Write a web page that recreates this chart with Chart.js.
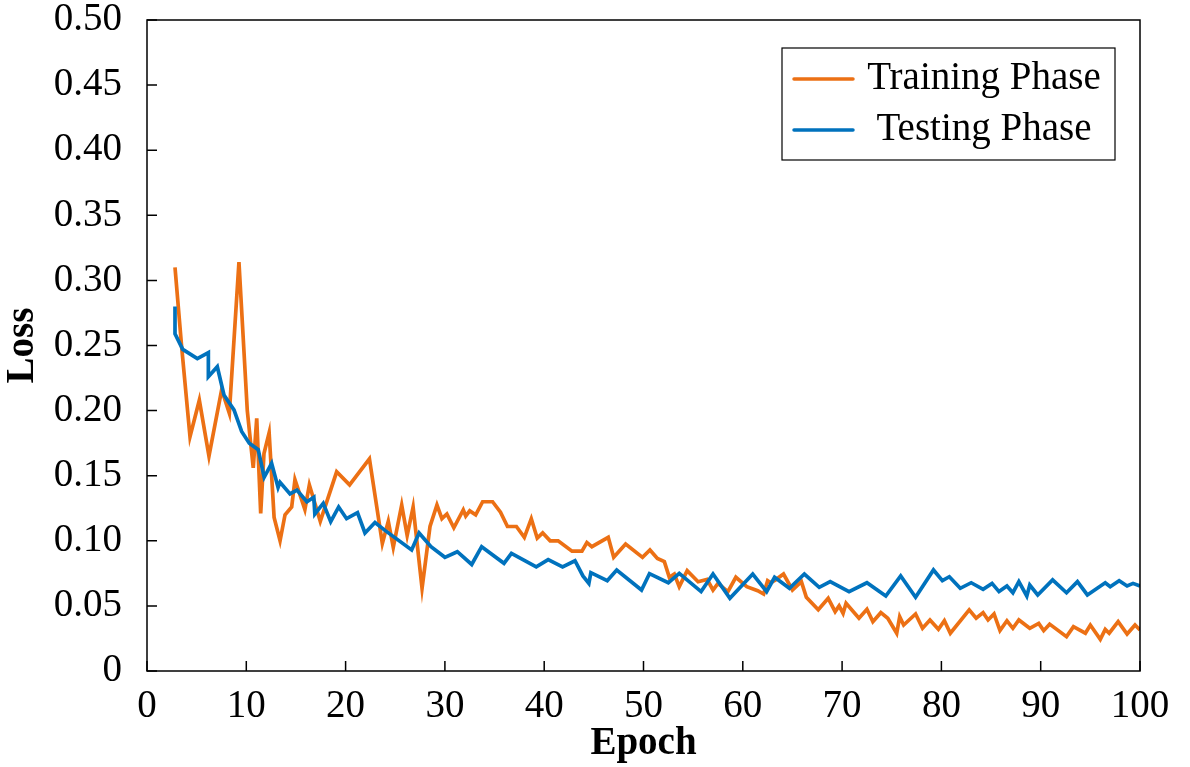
<!DOCTYPE html>
<html lang="en">
  <head>
    <meta charset="UTF-8" />
    <title>Loss vs Epoch</title>
    <script src="https://cdn.jsdelivr.net/npm/chart.js"></script>
    <style>
      html, body { margin: 0; padding: 0; background: #fff; }
      #wrap { width: 1190px; height: 767px; }
    </style>
  </head>
  <body>
    <div id="wrap"><canvas id="lossChart"></canvas></div>

    <script>
      // values
      const trainEpoch = [2.82, 3.49, 4.33, 5.27, 6.24, 7.52, 8.29, 9.26, 10.1, 10.7, 11.05, 11.45, 11.78, 12.3, 12.8, 13.4, 13.9, 14.57, 14.9, 15.9, 16.35, 17.45, 19.1, 20.4, 22.4, 23.7, 24.3, 24.8, 25.65, 26.2, 26.8, 27.7, 28.5, 29.2, 29.7, 30.2, 30.9, 31.85, 32.1, 32.5, 33.1, 33.8, 34.8, 35.6, 36.3, 37.2, 38.0, 38.7, 39.3, 39.85, 40.6, 41.4, 42.8, 43.8, 44.3, 44.8, 46.45, 47.0, 48.2, 49.9, 50.65, 51.4, 52.1, 52.6, 53.1, 53.6, 54.4, 55.5, 56.4, 57.0, 57.5, 58.5, 59.3, 60.4, 61.5, 62.1, 62.5, 62.8, 63.3, 64.1, 65.0, 65.9, 66.4, 67.6, 68.6, 69.3, 69.7, 70.1, 70.4, 71.7, 72.5, 73.1, 73.9, 74.6, 75.5, 75.8, 76.2, 77.4, 78.1, 78.85, 79.7, 80.3, 80.9, 82.8, 83.5, 84.2, 84.7, 85.3, 85.9, 86.6, 87.2, 87.8, 88.9, 89.8, 90.3, 90.9, 92.6, 93.3, 94.5, 95.0, 96.0, 96.5, 96.9, 97.8, 98.7, 99.5, 100];
      const trainLoss = [0.310, 0.249, 0.180, 0.208, 0.165, 0.216, 0.198, 0.314, 0.200, 0.156, 0.194, 0.121, 0.167, 0.183, 0.118, 0.100, 0.120, 0.126, 0.147, 0.124, 0.143, 0.115, 0.153, 0.143, 0.163, 0.098, 0.115, 0.095, 0.1275, 0.104, 0.126, 0.0635, 0.111, 0.1275, 0.117, 0.1206, 0.110, 0.1237, 0.119, 0.123, 0.120, 0.130, 0.130, 0.122, 0.111, 0.111, 0.1027, 0.117, 0.102, 0.106, 0.100, 0.100, 0.092, 0.092, 0.0986, 0.0955, 0.1027, 0.0873, 0.0975, 0.0873, 0.093, 0.0865, 0.084, 0.072, 0.0745, 0.0648, 0.077, 0.0686, 0.0704, 0.0622, 0.0673, 0.061, 0.072, 0.0648, 0.0617, 0.0591, 0.0694, 0.0678, 0.070, 0.0745, 0.0622, 0.0686, 0.0566, 0.047, 0.0558, 0.0456, 0.050, 0.0443, 0.052, 0.0405, 0.0474, 0.0379, 0.0448, 0.0405, 0.029, 0.0417, 0.0353, 0.0438, 0.0328, 0.0392, 0.032, 0.0386, 0.029, 0.0469, 0.0405, 0.0448, 0.0392, 0.0438, 0.031, 0.0386, 0.0328, 0.0392, 0.0328, 0.0366, 0.031, 0.036, 0.0264, 0.034, 0.029, 0.0353, 0.0243, 0.032, 0.029, 0.0379, 0.0284, 0.0353, 0.0315];

      const testEpoch = [2.82, 2.82, 3.6, 5.07, 6.18, 6.18, 7.08, 7.75, 8.76, 9.53, 10.3, 11.2, 11.8, 12.55, 13.2, 13.4, 14.4, 15.1, 16.1, 16.8, 16.9, 17.75, 18.5, 19.3, 20.1, 21.2, 21.95, 22.96, 24.0, 26.65, 27.4, 28.6, 30.0, 31.25, 32.7, 33.7, 35.95, 36.7, 39.2, 40.4, 41.85, 43.1, 43.9, 44.5, 44.7, 46.35, 47.3, 49.8, 50.6, 52.5, 53.6, 55.8, 57.0, 58.7, 61.0, 62.4, 63.2, 64.7, 66.2, 67.7, 68.8, 70.7, 72.5, 74.4, 75.9, 77.4, 79.2, 80.1, 80.8, 81.9, 83.0, 84.2, 85.1, 85.8, 86.6, 87.2, 87.8, 88.6, 88.9, 89.7, 91.2, 92.6, 93.7, 94.7, 96.5, 97.0, 97.9, 98.7, 99.3, 100];
      const testLoss = [0.280, 0.259, 0.247, 0.240, 0.2445, 0.226, 0.2337, 0.212, 0.2005, 0.184, 0.175, 0.170, 0.1488, 0.1595, 0.141, 0.145, 0.136, 0.139, 0.130, 0.1334, 0.1206, 0.1288, 0.1147, 0.126, 0.117, 0.1216, 0.106, 0.114, 0.1078, 0.093, 0.106, 0.0955, 0.0873, 0.0916, 0.0818, 0.0955, 0.0827, 0.0904, 0.080, 0.0855, 0.080, 0.0847, 0.073, 0.0673, 0.0755, 0.0694, 0.0776, 0.0622, 0.0748, 0.0678, 0.075, 0.061, 0.0745, 0.0558, 0.0745, 0.061, 0.072, 0.0635, 0.0745, 0.0643, 0.0686, 0.061, 0.0678, 0.0576, 0.073, 0.0566, 0.0776, 0.0694, 0.0724, 0.0635, 0.0678, 0.0627, 0.0673, 0.061, 0.0653, 0.0601, 0.0686, 0.0576, 0.066, 0.0584, 0.070, 0.0601, 0.0686, 0.0584, 0.0678, 0.0647, 0.0694, 0.0653, 0.0673, 0.0653];

      const seriesNames = ["Training Phase", "Testing Phase"];
      const xTicks = [0, 10, 20, 30, 40, 50, 60, 70, 80, 90, 100];
      const yTicks = [0, 0.05, 0.1, 0.15, 0.2, 0.25, 0.3, 0.35, 0.4, 0.45, 0.5];

      const ORANGE = "#EC7014";
      const BLUE = "#0072BD";
      const FONT = "'Liberation Serif', 'Times New Roman', serif";

      const toPoints = (xs, ys) => xs.map((x, i) => ({ x: x, y: ys[i] }));

      // box around plot + inward ticks + framed legend
      const framePlugin = {
        id: "frame",
        afterDraw(chart) {
          const { ctx, chartArea: a, scales } = chart;
          ctx.save();
          ctx.strokeStyle = "#000";
          ctx.lineWidth = 1.5;
          ctx.strokeRect(a.left, a.top, a.right - a.left, a.bottom - a.top);

          ctx.beginPath();
          xTicks.forEach(v => {
            const px = scales.x.getPixelForValue(v);
            ctx.moveTo(px, a.bottom);
            ctx.lineTo(px, a.bottom - 10);
          });
          yTicks.forEach(v => {
            const py = scales.y.getPixelForValue(v);
            ctx.moveTo(a.left, py);
            ctx.lineTo(a.left + 10, py);
          });
          ctx.stroke();

          // legend
          const bx = a.right - 358, by = a.top + 28, bw = 333, bh = 112;
          ctx.fillStyle = "#fff";
          ctx.fillRect(bx, by, bw, bh);
          ctx.lineWidth = 1.2;
          ctx.strokeRect(bx, by, bw, bh);
          ctx.font = "39px " + FONT;
          ctx.textBaseline = "middle";
          ctx.textAlign = "center";
          chart.data.datasets.forEach((ds, i) => {
            const ly = by + 31 + i * 51;
            ctx.strokeStyle = ds.borderColor;
            ctx.lineWidth = 3.5;
            ctx.lineCap = "round";
            ctx.beginPath();
            ctx.moveTo(bx + 12, ly);
            ctx.lineTo(bx + 71, ly);
            ctx.stroke();
            ctx.fillStyle = "#000";
            ctx.fillText(ds.label, bx + 202, ly);
          });
          ctx.restore();
        },
      };

      new Chart(document.getElementById("lossChart"), {
        type: "line",
        data: {
          datasets: [
            {
              label: seriesNames[0],
              data: toPoints(trainEpoch, trainLoss),
              borderColor: ORANGE,
              borderWidth: 3.7,
              pointRadius: 0,
              tension: 0,
              order: 1,
            },
            {
              label: seriesNames[1],
              data: toPoints(testEpoch, testLoss),
              borderColor: BLUE,
              borderWidth: 3.7,
              pointRadius: 0,
              tension: 0,
              order: 0,
            },
          ],
        },
        options: {
          responsive: true,
          maintainAspectRatio: false,
          animation: false,
          layout: { padding: { left: 0, top: 20, right: 50, bottom: 0 } },
          plugins: {
            legend: { display: false },
            tooltip: { enabled: false },
          },
          scales: {
            x: {
              type: "linear",
              min: 0,
              max: 100,
              afterBuildTicks: s => { s.ticks = xTicks.map(v => ({ value: v })); },
              afterFit: s => { s.height = 96; s.paddingLeft = 0; s.paddingRight = 0; },
              grid: { display: false, drawTicks: false },
              border: { display: false },
              ticks: {
                color: "#000",
                font: { family: FONT, size: 39 },
                padding: 12,
                maxRotation: 0,
              },
              title: {
                display: true,
                text: "Epoch",
                color: "#000",
                font: { family: FONT, size: 39, weight: "bold" },
                padding: { top: 0, bottom: 0 },
              },
            },
            y: {
              min: 0,
              max: 0.5,
              afterBuildTicks: s => { s.ticks = yTicks.map(v => ({ value: v })); },
              afterFit: s => { s.width = 147; s.paddingTop = 0; s.paddingBottom = 0; },
              grid: { display: false, drawTicks: false },
              border: { display: false },
              ticks: {
                color: "#000",
                font: { family: FONT, size: 39 },
                padding: 25,
                callback: v => (v === 0 ? "0" : v.toFixed(2)),
              },
              title: {
                display: true,
                text: "Loss",
                color: "#000",
                font: { family: FONT, size: 39, weight: "bold" },
                padding: 0,
              },
            },
          },
        },
        plugins: [framePlugin],
      });
    </script>
  </body>
</html>
